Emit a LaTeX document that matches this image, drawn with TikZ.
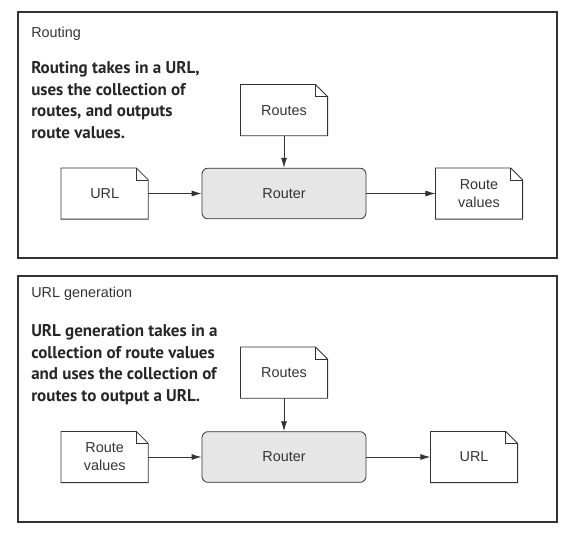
\documentclass[tikz,border=0pt]{standalone}
\usepackage{fontspec}
\setmainfont{Liberation Sans}
\newfontfamily\notefont{PT Sans}
\usetikzlibrary{positioning, arrows.meta}
\definecolor{linegray}{HTML}{333333}
\definecolor{routerfill}{HTML}{E6E6E6}

% outline of a document with a folded corner
\newcommand{\dogear}[1]{%
  \draw[docline] (#1.south west) -- (#1.north west) -- ([xshift=-9pt]#1.north east)
    -- ([yshift=-9pt]#1.north east) -- (#1.south east) -- cycle;
  \draw[docline] ([xshift=-9pt]#1.north east) |- ([yshift=-9pt]#1.north east);}

\begin{document}
\begin{tikzpicture}[x=0.75pt, y=-0.75pt, >={Latex[length=7.5pt, width=4.5pt]}, font=\fontsize{10.8}{13.5}\selectfont, text=linegray]
  \tikzstyle{panel} = [draw=linegray, line width=0.8pt]
  \tikzstyle{router} = [draw=linegray, fill=routerfill, rounded corners=4.5pt, minimum width=123pt, minimum height=38pt, line width=0.6pt]
  \tikzstyle{doc} = [minimum width=65pt, minimum height=38pt, align=center, inner sep=0pt]
  \tikzstyle{docline} = [draw=linegray, line width=0.6pt]
  \tikzstyle{flow} = [->, draw=linegray, line width=0.6pt]
  \tikzstyle{title} = [anchor=base west, inner sep=0pt]
  \tikzstyle{note} = [anchor=north west, inner sep=0pt, align=left, text=black!85, font=\notefont\bfseries\fontsize{12.75}{16.3}\selectfont]
  \useasboundingbox (0,0) rectangle (573,532);

  % routing
  \draw[panel] (18,12) rectangle (557,258);
  \node[title] (title1) at (31,37) {Routing};
  \node[note] (note1) at (31,61) {Routing takes in a URL,\\uses the collection of\\routes, and outputs\\route values.};
  \node[router] (router1) at (284,193.5) {Router};
  \node[doc, left=40pt of router1] (url1) {URL};
  \node[doc, right=51.75pt of router1] (values1) {Route\\values};
  \node[doc, above=24pt of router1] (routes1) {Routes};
  \dogear{url1}
  \dogear{values1}
  \dogear{routes1}
  \draw[flow] (url1) -- (router1);
  \draw[flow] (routes1) -- (router1);
  \draw[flow] (router1) -- (values1);

  % url generation
  \draw[panel] (18,276) rectangle (557,522);
  \node[title] (title2) at (31,297) {URL generation};
  \node[note] (note2) at (31,324) {URL generation takes in a\\collection of route values\\and uses the collection of\\routes to output a URL.};
  \node[router] (router2) at (284,457) {Router};
  \node[doc, left=40pt of router2] (values2) {Route\\values};
  \node[doc, right=48pt of router2] (url2) {URL};
  \node[doc, above=24.75pt of router2] (routes2) {Routes};
  \dogear{values2}
  \dogear{url2}
  \dogear{routes2}
  \draw[flow] (values2) -- (router2);
  \draw[flow] (routes2) -- (router2);
  \draw[flow] (router2) -- (url2);
\end{tikzpicture}
\end{document}
